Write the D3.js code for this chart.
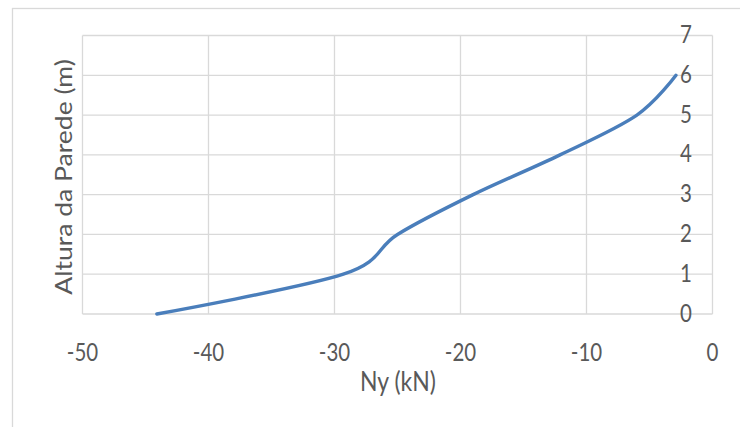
<!DOCTYPE html>
<html><head><meta charset="utf-8">
<script src="https://cdn.jsdelivr.net/npm/d3@7"></script>
<style>body{margin:0;background:#fff}svg{display:block}</style>
</head><body><svg id="c" width="740" height="427"></svg>
<script>
const heights = [0, 1, 2, 3, 4, 5, 6];
const nyValues = [-44.1, -29.3, -25.0, -19.0, -12.1, -6.0, -2.9];
const xTicks = [-50, -40, -30, -20, -10, 0];
const yTicks = [0, 1, 2, 3, 4, 5, 6, 7];
const xTitle = "Ny (kN)";
const yTitle = "Altura da Parede (m)";

const svg = d3.select("#c");
const font = "Lato, 'Open Sans', sans-serif";
const L = 82.5, R = 712.5, T = 35.5, B = 314;
const x = d3.scaleLinear().domain([-50, 0]).range([L, R]);
const y = d3.scaleLinear().domain([0, 7]).range([B, T]);
const sy = 1.18;

svg.append("rect").attr("x", 12.5).attr("y", 8.5).attr("width", 760).attr("height", 440)
  .attr("fill", "#fff").attr("stroke", "#d9d9d9").attr("stroke-width", 1.3);

const grid = svg.append("g");
grid.selectAll(".vx").data(xTicks).join("line")
  .attr("x1", d => x(d)).attr("x2", d => x(d)).attr("y1", T).attr("y2", B)
  .attr("stroke", "#d9d9d9").attr("stroke-width", 1.3);
grid.selectAll(".hy").data(yTicks).join("line")
  .attr("x1", L).attr("x2", R).attr("y1", d => y(d)).attr("y2", d => y(d))
  .attr("stroke", "#d9d9d9").attr("stroke-width", 1.3);

svg.append("g").selectAll("text").data(xTicks).join("text")
  .attr("transform", d => `translate(${x(d)},361) scale(1,${sy})`).attr("text-anchor", "middle")
  .attr("font-family", font).attr("font-size", 20.5).attr("fill", "#595959")
  .text(d => d);
svg.append("g").selectAll("text").data(yTicks).join("text")
  .attr("transform", d => `translate(692,${y(d) + 7.5}) scale(1,${sy})`).attr("text-anchor", "end")
  .attr("font-family", font).attr("font-size", 20.5).attr("fill", "#595959")
  .text(d => d);

svg.append("text").attr("transform", `translate(398,391) scale(1,${sy})`).attr("text-anchor", "middle")
  .attr("font-family", font).attr("font-size", 23).attr("fill", "#595959").text(xTitle);
svg.append("text").attr("transform", `translate(72,177) scale(1,${sy}) rotate(-90)`).attr("text-anchor", "middle")
  .attr("font-family", font).attr("font-size", 22.5).attr("fill", "#595959").text(yTitle);

const pts = heights.map((h, i) => [nyValues[i], h]);
const line = d3.line().x(d => x(d[0])).y(d => y(d[1])).curve(d3.curveCatmullRom.alpha(0));
svg.append("path").datum(pts).attr("d", line).attr("fill", "none")
  .attr("stroke", "#4a7ebb").attr("stroke-width", 3.4).attr("stroke-linecap", "round");
</script></body></html>
